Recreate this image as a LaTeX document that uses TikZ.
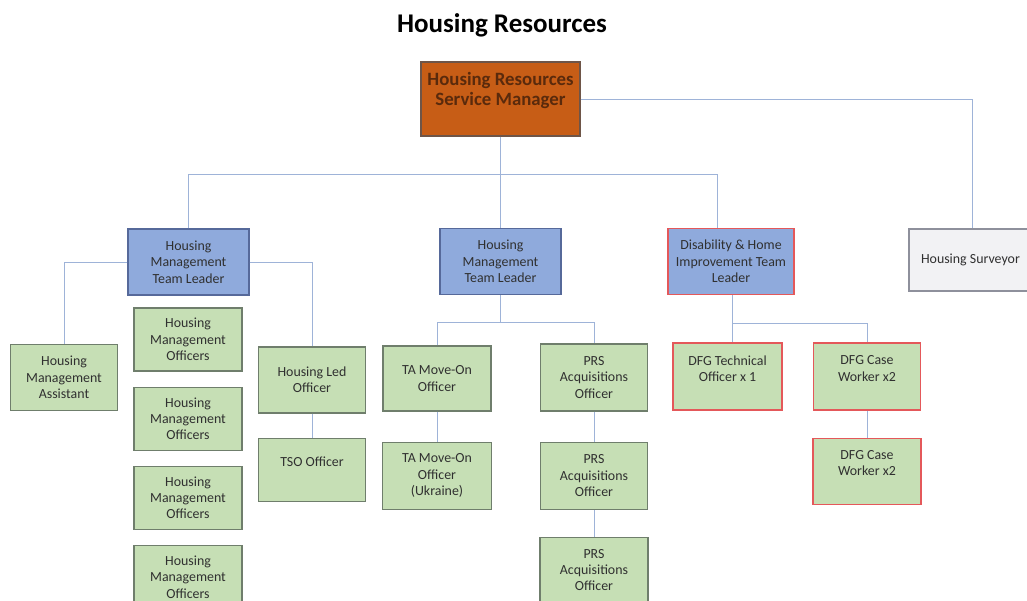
\documentclass[tikz,border=0pt]{standalone}
\usepackage{fontspec}
\setmainfont{Carlito}
\usepackage{tikz}
\usetikzlibrary{positioning}

\definecolor{mgrfill}{HTML}{C75D16}
\definecolor{mgrline}{HTML}{6E5548}
\definecolor{mgrtext}{HTML}{5A2A0C}
\definecolor{leadfill}{HTML}{8FAADC}
\definecolor{leadline}{HTML}{56699A}
\definecolor{stafffill}{HTML}{C6DFB5}
\definecolor{staffline}{HTML}{6F7E6C}
\definecolor{redline}{HTML}{E4585A}
\definecolor{survfill}{HTML}{F2F2F4}
\definecolor{survline}{HTML}{8E909C}
\definecolor{linkcol}{HTML}{9EB3D8}
\definecolor{boxtext}{HTML}{303030}

\begin{document}
\begin{tikzpicture}[x=1pt,y=-1pt,
    font=\fontsize{13.9}{16.3}\selectfont,
    box/.style={draw, line width=1.2pt, align=center, text=boxtext},
    lead/.style={box, fill=leadfill, draw=leadline, minimum width=121pt, minimum height=66pt},
    staff/.style={box, fill=stafffill, draw=staffline, minimum width=107pt, minimum height=66pt},
    link/.style={draw=linkcol, line width=0.9pt}
]
\useasboundingbox (0,0) rectangle (1027,601);

\node[font=\fontsize{27}{31}\selectfont\bfseries] (title) at (502,25) { Housing Resources };

% top of the chart
\node[box,
    fill=mgrfill,
    draw=mgrline,
    text=mgrtext,
    font=\fontsize{18.8}{20}\selectfont\bfseries,
    minimum width=159pt,
    minimum height=74pt
] (mgr) at (500.5,99) { Housing Resources\\Service Manager\\~ };

\node[lead] (tlA) at (188.5,262) { Housing\\Management\\Team Leader };

\node[lead] (tlB) at (500.5,261.5) { Housing\\Management\\Team Leader };

\node[lead,
    draw=redline,
    minimum width=126pt
] (tlD) at (731,261.5) { Disability \& Home\\Improvement Team\\Leader };

\node[box,
    fill=survfill,
    draw=survline,
    minimum width=126pt,
    minimum height=62pt
] (surv) at (972,260) { Housing Surveyor };

% first team
\node[staff] (asst) at (64,377.5) { Housing\\Management\\Assistant };

\node[staff,
    minimum width=108pt,
    minimum height=63pt
] (hmo1) at (188,339.5) { Housing\\Management\\Officers };

\node[staff,
    below=15pt of hmo1,
    minimum width=108pt,
    minimum height=63pt
] (hmo2) { Housing\\Management\\Officers };

\node[staff,
    below=15pt of hmo2,
    minimum width=108pt,
    minimum height=63pt
] (hmo3) { Housing\\Management\\Officers };

\node[staff,
    below=15pt of hmo3,
    minimum width=108pt,
    minimum height=63pt
] (hmo4) { Housing\\Management\\Officers };

\node[staff] (led) at (312,380) { Housing Led\\Officer };

\node[staff,
    below=24pt of led,
    minimum height=63pt
] (tso) { TSO Officer\\~ };

% second team
\node[staff,
    minimum width=108pt,
    minimum height=65pt
] (ta) at (437,378.5) { TA Move-On\\Officer };

\node[staff,
    below=30pt of ta,
    minimum width=109pt,
    minimum height=67pt
] (tau) { TA Move-On\\Officer\\(Ukraine) };

\node[staff,
    minimum height=67pt
] (prs1) at (594,377.5) { PRS\\Acquisitions\\Officer };

\node[staff,
    below=30pt of prs1,
    minimum height=67pt
] (prs2) { PRS\\Acquisitions\\Officer };

\node[staff,
    below=27pt of prs2,
    minimum width=108pt,
    minimum height=65pt
] (prs3) { PRS\\Acquisitions\\Officer };

% third team
\node[staff,
    draw=redline,
    minimum width=109pt,
    minimum height=67pt
] (dfgT) at (727.5,376.5) { DFG Technical\\Officer x 1\\~ };

\node[staff,
    draw=redline,
    minimum height=67pt
] (dfgC) at (867,376.5) { DFG Case\\Worker x2\\~ };

\node[staff,
    draw=redline,
    below=27pt of dfgC,
    minimum width=108pt
] (dfgC2) { DFG Case\\Worker x2\\~ };

% connectors
\coordinate (bus) at (0,174);
\coordinate (busB) at (0,322);
\coordinate (busD) at (0,323);

\draw[link] (mgr) -- (tlB);
\draw[link] (tlA.north) |- ([xshift=-14pt]tlD.north |- bus) -- ([xshift=-14pt]tlD.north);
\draw[link] (mgr.east) -| (surv.north);

\draw[link] (tlA.west) -| (asst.north);
\draw[link] (tlA.east) -| (led.north);
\draw[link] (led) -- (tso);

\draw[link] (tlB.south) -- (tlB.south |- busB);
\draw[link] (ta.north) |- (busB -| prs1.north) -- (prs1.north);
\draw[link] (ta) -- (tau);
\draw[link] (prs1) -- (prs2);
\draw[link] (prs2) -- (prs3);

\draw[link] ([xshift=1pt]tlD.south) -- ([xshift=1pt]tlD.south |- dfgT.north);
\draw[link] ([xshift=1pt]tlD.south |- busD) -| (dfgC.north);
\draw[link] (dfgC) -- (dfgC2);

\end{tikzpicture}
\end{document}
